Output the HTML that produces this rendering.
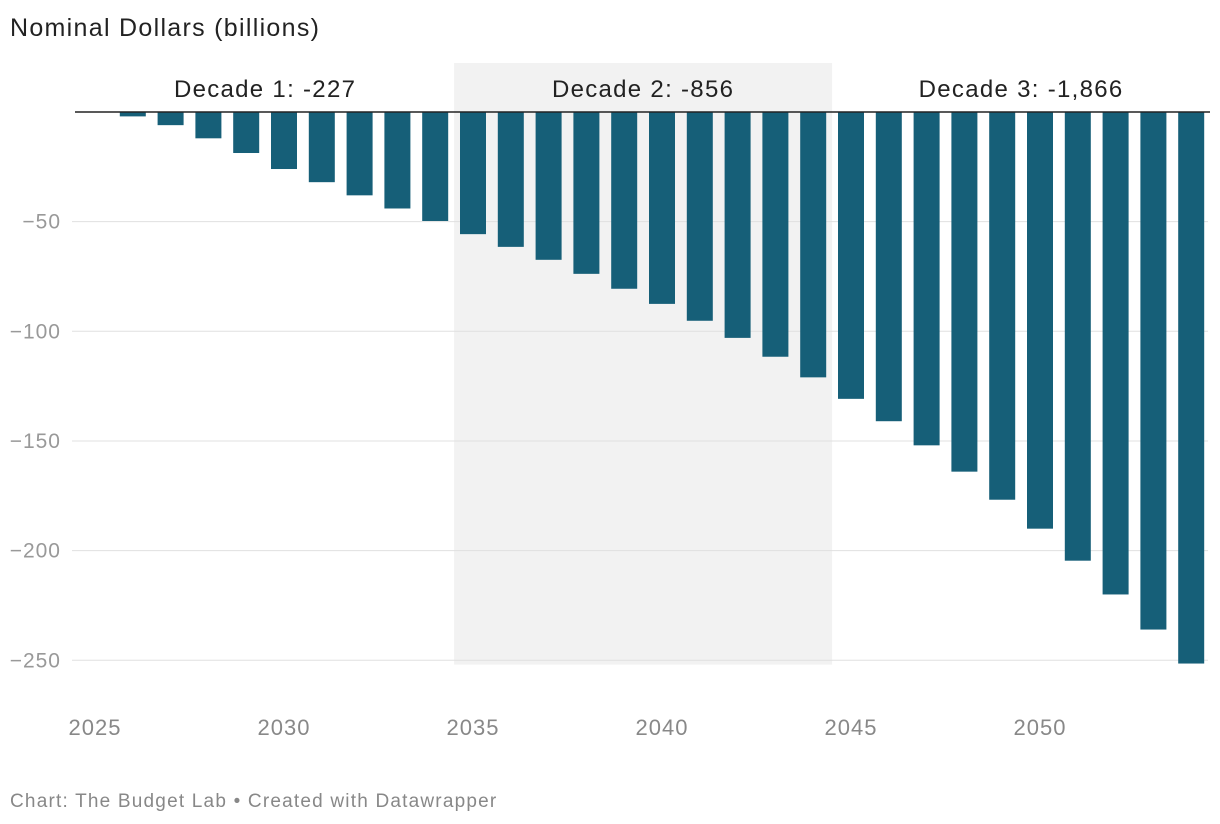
<!DOCTYPE html>
<html><head><meta charset="utf-8">
<style>
body{margin:0;background:#fff;font-family:"Liberation Sans",sans-serif;}
svg{display:block}
</style></head>
<body>
<svg id="chart" width="1220" height="824">
<text x="10" y="36" font-size="25" letter-spacing="1.3" fill="#222">Nominal Dollars (billions)</text>
<text x="10" y="807" font-size="19" letter-spacing="1.2" fill="#888">Chart: The Budget Lab • Created with Datawrapper</text>
<g id="plot"></g>
</svg>
<script>
const years=[2025,2026,2027,2028,2029,2030,2031,2032,2033,2034,2035,2036,2037,2038,2039,2040,2041,2042,2043,2044,2045,2046,2047,2048,2049,2050,2051,2052,2053,2054];
const values=[0,-2,-6,-12,-18.7,-26,-32,-38,-44,-49.7,-55.7,-61.5,-67.4,-73.8,-80.6,-87.5,-95.2,-103,-111.6,-121,-130.8,-141,-152,-164,-176.8,-190,-204.6,-220,-236,-251.5];
const yTicks=[-50,-100,-150,-200,-250];
const xTicks=[2025,2030,2035,2040,2045,2050];
const decadeLabels=["Decade 1: -227","Decade 2: -856","Decade 3: -1,866"];
const decadeStarts=[2025,2035,2045];

const NS="http://www.w3.org/2000/svg";
const g=document.getElementById('plot');
const x=yr=>95+(yr-2025)*37.8;
const y=v=>112-v*2.193;
function mk(t,a){const e=document.createElementNS(NS,t);for(const k in a)e.setAttribute(k,a[k]);g.appendChild(e);return e;}

const sh=mk('rect',{x:x(2034.5),y:63,width:x(2044.5)-x(2034.5),height:y(-252)-63,fill:'#f2f2f2'});



yTicks.forEach(v=>{
 const l=mk('line',{x1:72,x2:1208,y1:y(v),y2:y(v),stroke:'#e0e0e0','stroke-width':1});
 
 
 const t=mk('text',{x:61,y:y(v)+7,'font-size':21,'letter-spacing':1,fill:'#999','text-anchor':'end'});
 t.textContent=String(v).replace('-','−');
 
 
});

years.forEach((yr,i)=>{
 const v=values[i];
 const r=mk('rect',{x:x(yr)-13,y:y(0),width:26,height:Math.max(0,y(v)-y(0)),fill:'#165f78'});
 
 
});

const z=mk('line',{x1:75,x2:1210,y1:y(0),y2:y(0),stroke:'#222','stroke-width':1.5});



xTicks.forEach(yr=>{
 const t=mk('text',{x:x(yr),y:735,'font-size':22,'letter-spacing':1,fill:'#888','text-anchor':'middle'});
 t.textContent=yr;
 
 
});

decadeLabels.forEach((s,i)=>{
 const t=mk('text',{x:(x(decadeStarts[i]-0.5)+x(decadeStarts[i]+9.5))/2,y:97,'font-size':24,'letter-spacing':1.3,fill:'#222','text-anchor':'middle'});
 t.textContent=s;
 
 
});
</script>
</body></html>
